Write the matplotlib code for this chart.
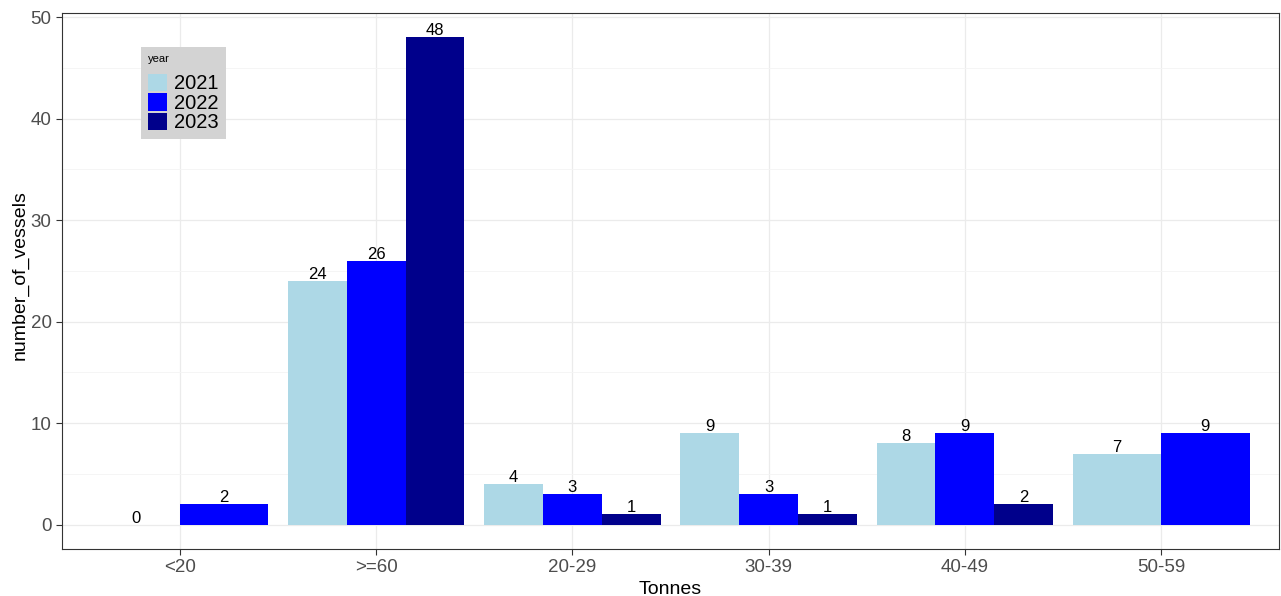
import numpy as np
import matplotlib.pyplot as plt
from matplotlib.patches import Patch

plt.rcParams['font.family'] = ['Liberation Sans', 'DejaVu Sans']

categories = ['<20', '>=60', '20-29', '30-39', '40-49', '50-59']
years = ['2021', '2022', '2023']
colors = {'2021': '#ADD8E6', '2022': '#0000FF', '2023': '#00008B'}

# None = no bar for that year in that class
vessels = {
    '2021': [0, 24, 4, 9, 8, 7],
    '2022': [2, 26, 3, 3, 9, 9],
    '2023': [None, 48, 1, 1, 2, None],
}

fig = plt.figure(figsize=(12.81, 5.96), dpi=100)
ax = fig.add_axes([62 / 1281, 47 / 596, 1217 / 1281, 536 / 596])

total_w = 0.9
for i, cat in enumerate(categories):
    present = [y for y in years if vessels[y][i] is not None]
    n = len(present)
    w = total_w / n
    for j, y in enumerate(present):
        v = vessels[y][i]
        x = i + 1 - total_w / 2 + w * (j + 0.5)
        ax.bar(x, v, width=w, color=colors[y], zorder=3)
        ax.text(x, v - 0.1, str(v), ha='center', va='bottom', fontsize=12, color='black', zorder=4)

ax.set_xlim(0.4, 6.6)
ax.set_ylim(-2.4, 50.4)
ax.set_xticks(range(1, 7))
ax.set_xticklabels(categories)
ax.set_yticks(np.arange(0, 51, 10))
ax.set_yticks(np.arange(5, 50, 10), minor=True)
ax.tick_params(axis='both', which='major', labelsize=13.5, labelcolor='#4D4D4D', color='#333333', length=4)
ax.tick_params(axis='y', which='minor', length=0)
ax.grid(which='major', color='#EBEBEB', linewidth=0.9, zorder=0)
ax.grid(which='minor', axis='y', color='#F4F4F4', linewidth=0.6, zorder=0)
ax.set_axisbelow(True)
for s in ax.spines.values():
    s.set_color('#333333')
    s.set_linewidth(0.8)

ax.set_xlabel('Tonnes', fontsize=14, labelpad=3)
ax.set_ylabel('number_of_vessels', fontsize=14)
ax.yaxis.set_label_coords(-0.027, 0.511)

handles = [Patch(facecolor=colors[y], edgecolor='none') for y in years]
leg = ax.legend(handles, years, title='year', loc='upper left', bbox_to_anchor=(0.0649, 0.937),
                fontsize=14.5, title_fontsize=8, frameon=True, fancybox=False,
                handlelength=0.95, handleheight=0.95, handletextpad=0.35, labelspacing=0.0,
                borderpad=0.35, borderaxespad=0)
leg.get_frame().set_facecolor('#D3D3D3')
leg.get_frame().set_edgecolor('none')
leg.get_frame().set_alpha(1)
leg._legend_box.align = 'left'
leg._legend_box.sep = 7

fig.savefig('out.png', dpi=100)
